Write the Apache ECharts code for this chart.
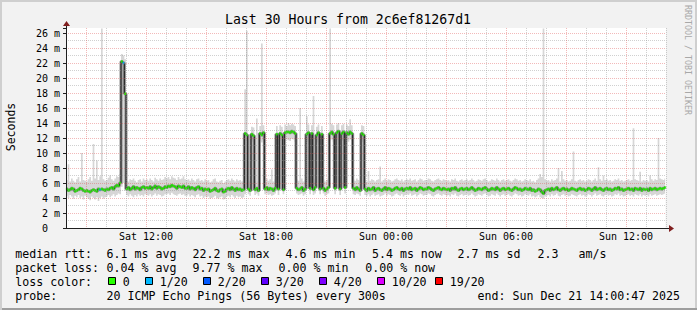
<!DOCTYPE html>
<html><head><meta charset="utf-8">
<script src="https://cdn.jsdelivr.net/npm/echarts@6/dist/echarts.min.js"></script>
<style>html,body{margin:0;padding:0;background:#f2f2f2}#c{width:697px;height:310px}</style>
</head><body><div id="c"></div>
<script>
// ---- data (5-minute steps starting Sat 08:00) ----
const startHour = 8;
const stepMinutes = 5;
const median = [
5.2,5.0,5.1,5.3,5.2,4.9,5.0,5.1,5.3,5.2,5.0,4.9,
5.0,4.9,4.8,5.0,5.1,5.0,4.9,5.2,5.1,5.2,5.1,5.0,
5.2,5.1,5.3,5.4,5.2,5.5,5.7,5.6,6.0,22.2,22.0,17.9,
5.2,5.4,5.1,5.3,5.5,5.2,5.4,5.3,5.1,5.4,5.5,5.3,
5.4,5.3,5.5,5.2,5.4,5.6,5.3,5.5,5.4,5.2,5.3,5.5,
5.4,5.6,5.5,5.7,5.6,5.5,5.3,5.6,5.5,5.4,5.6,5.3,
5.3,5.5,5.2,5.4,5.3,5.1,5.4,5.5,5.2,5.3,5.0,5.2,
5.1,5.2,4.9,5.0,5.1,5.3,5.0,4.9,5.1,5.2,4.8,4.9,
5.2,5.3,5.1,5.4,5.2,5.0,5.3,5.1,5.2,5.0,5.1,12.6,
12.4,5.2,5.0,12.5,12.3,5.1,5.3,5.0,12.6,12.4,12.7,5.2,
5.4,5.1,5.3,5.2,5.0,5.3,12.5,5.2,12.6,12.4,5.1,12.7,
12.8,12.8,12.7,12.9,12.8,12.6,5.3,5.1,5.2,5.4,5.0,5.2,
12.5,12.7,5.3,12.6,5.1,5.4,12.4,12.7,5.2,12.5,5.3,5.0,
5.2,5.4,12.6,12.8,12.5,5.3,12.7,12.9,5.2,12.6,12.8,5.4,
12.7,12.5,12.8,12.6,5.3,5.1,5.4,5.2,5.0,12.6,12.4,5.2,
5.0,5.3,5.1,5.2,5.4,5.0,5.2,5.3,5.1,5.0,5.2,5.4,
5.1,5.3,5.2,5.0,5.1,5.3,5.4,5.2,5.1,5.3,5.0,5.2,
5.3,5.2,5.4,5.1,5.2,5.3,5.0,5.2,5.4,5.3,5.1,5.2,
5.2,5.4,5.3,5.1,5.0,5.2,5.3,5.4,5.2,5.1,5.3,5.2,
5.1,5.2,5.0,5.3,5.2,5.4,5.1,5.0,5.2,5.3,5.1,5.2,
5.3,5.1,5.2,5.4,5.2,5.0,5.1,5.3,5.2,5.1,5.3,5.4,
5.2,5.0,5.1,5.3,5.2,5.1,5.4,5.2,5.0,5.2,5.3,5.1,
5.2,5.3,5.1,5.0,5.2,5.4,5.3,5.1,5.2,5.0,5.1,5.3,
5.2,5.1,5.3,5.0,5.1,4.9,5.0,5.2,5.1,4.8,4.6,5.0,
5.1,5.2,5.0,5.3,5.1,5.2,5.4,5.1,5.0,5.2,5.3,5.1,
5.2,5.0,5.1,5.3,5.2,5.1,5.0,5.2,5.3,5.1,5.2,5.0,
5.1,5.3,5.2,5.0,5.2,5.4,5.1,5.2,5.3,5.1,5.0,5.2,
5.3,5.1,5.2,5.0,5.1,5.3,5.2,5.4,5.1,5.2,5.0,5.1,
5.2,5.3,5.1,5.2,5.0,5.3,5.2,5.1,5.3,5.0,5.2,5.1,
5.2,5.0,5.3,5.1,5.2,5.3,5.1,5.2,5.3,5.2,5.3,5.4
];
const pingMax = [
6.4,8.5,6.2,6.6,6.3,6.1,6.5,6.8,6.2,10.0,6.4,6.3,
6.2,6.5,6.8,6.3,11.2,6.6,9.0,6.4,6.9,26.6,6.5,6.3,
6.4,6.7,7.0,6.5,6.3,6.6,6.9,6.8,7.2,23.2,23.0,22.5,
6.3,6.2,6.5,6.4,6.6,6.3,6.1,6.4,6.5,6.2,6.6,6.4,
6.5,6.3,6.6,6.4,6.2,6.7,6.5,6.3,6.6,6.4,6.5,6.8,
6.6,6.8,6.5,6.9,6.7,6.6,6.4,6.8,6.5,6.6,6.9,6.5,
6.4,6.5,6.3,6.6,6.4,6.2,6.5,6.6,6.3,6.4,6.2,6.5,
6.3,6.4,6.1,6.2,6.5,6.6,6.2,6.1,6.3,6.4,6.0,6.2,
6.4,6.5,6.3,6.6,6.4,6.2,6.5,6.3,6.4,6.2,6.3,18.5,
26.3,6.4,6.2,13.5,13.4,6.3,14.6,6.2,13.6,24.6,13.7,6.4,
6.6,6.3,6.5,7.8,6.2,6.5,13.6,6.4,13.7,13.5,6.3,13.8,
13.6,14.0,13.7,13.9,13.8,13.6,6.5,6.3,16.0,6.6,6.2,6.4,
14.9,13.8,6.5,13.7,17.6,6.6,13.5,13.8,6.4,13.6,6.5,6.2,
6.4,6.6,26.6,13.9,13.7,6.5,13.8,14.0,6.4,13.7,13.9,13.0,
13.8,13.6,14.5,13.7,6.5,6.3,6.6,6.4,6.2,13.7,13.6,6.4,
6.2,7.6,6.3,6.5,6.4,6.2,6.4,6.5,8.2,6.2,6.4,6.6,
6.3,6.5,6.4,6.2,6.3,6.5,6.6,6.4,6.3,6.5,6.2,6.4,
6.5,6.4,6.6,6.3,6.4,6.5,6.2,6.4,6.6,6.5,6.3,6.4,
6.4,6.6,6.5,6.3,6.2,6.4,6.5,6.6,6.4,6.3,6.5,6.4,
6.3,6.4,6.2,6.5,6.4,6.6,6.3,6.2,6.4,6.5,6.3,6.4,
6.5,6.3,6.4,6.6,6.4,6.2,6.3,6.5,6.4,6.3,6.5,6.6,
6.4,6.2,6.3,6.5,6.4,6.3,6.6,6.4,6.2,6.4,6.5,6.3,
6.4,6.5,6.3,6.2,6.4,6.6,6.5,6.3,6.4,6.2,6.3,6.5,
6.4,6.3,6.5,6.2,6.3,6.1,6.4,6.6,7.2,6.8,26.6,6.5,
6.3,6.4,6.2,6.5,6.3,6.4,6.6,8.0,6.2,7.6,6.5,6.3,
6.4,6.2,6.3,6.5,10.2,6.3,6.2,6.4,6.5,6.3,6.4,6.2,
6.3,6.5,6.4,6.2,6.4,6.6,6.3,8.1,6.5,6.3,7.0,6.4,
6.5,6.3,6.4,6.2,6.3,6.5,6.4,6.6,6.3,6.4,6.2,6.3,
6.4,6.5,6.3,6.4,13.3,6.5,6.4,6.3,7.5,6.2,6.4,6.3,
6.4,6.2,7.0,6.5,6.3,6.5,6.4,12.0,6.6,6.5,6.4,6.6
];
const pingMin = [
4.3,4.0,4.4,4.2,3.9,4.3,4.1,4.4,4.0,4.2,3.8,4.3,
4.1,3.9,3.7,4.2,4.0,3.8,4.1,3.6,4.0,4.2,3.9,4.1,
4.2,4.4,4.1,4.3,4.5,4.2,4.4,4.6,4.5,5.5,6.0,5.0,
4.4,4.2,4.5,4.3,4.1,4.4,4.2,4.5,4.3,4.4,4.2,4.5,
4.4,4.3,4.5,4.2,4.4,4.6,4.3,4.5,4.4,4.2,4.3,4.5,
4.5,4.6,4.4,4.7,4.5,4.4,4.3,4.5,4.6,4.4,4.5,4.3,
4.3,4.5,4.2,4.4,4.3,4.1,4.4,4.5,4.2,4.3,4.0,4.2,
4.1,4.2,3.9,4.0,4.1,4.3,4.0,3.9,4.1,4.2,3.8,3.9,
4.2,4.3,4.1,4.4,4.2,4.0,4.3,4.1,4.2,4.0,4.1,4.5,
11.6,4.5,4.3,11.5,11.7,4.4,4.6,4.3,11.6,11.4,11.7,4.5,
4.6,4.4,4.5,4.3,4.4,4.6,11.5,4.4,11.6,11.7,4.5,11.6,
11.8,11.7,11.6,11.9,11.8,11.5,4.6,4.4,4.5,4.6,4.3,4.5,
11.5,11.7,4.5,11.6,4.4,4.6,11.4,11.7,4.5,11.5,4.6,4.3,
4.5,4.6,11.6,11.8,11.5,4.5,11.7,11.8,4.4,11.6,11.7,4.6,
11.7,11.5,11.8,11.6,4.5,4.4,4.6,4.5,4.3,11.5,11.4,4.4,
4.3,4.5,4.2,4.4,4.6,4.3,4.4,4.5,4.2,4.3,4.4,4.6,
4.3,4.5,4.4,4.2,4.3,4.5,4.6,4.4,4.3,4.5,4.2,4.4,
4.5,4.4,4.6,4.3,4.4,4.5,4.2,4.4,4.6,4.5,4.3,4.4,
4.4,4.6,4.5,4.3,4.2,4.4,4.5,4.6,4.4,4.3,4.5,4.4,
4.3,4.4,4.2,4.5,4.4,4.6,4.3,4.2,4.4,4.5,4.3,4.4,
4.5,4.3,4.4,4.6,4.4,4.2,4.3,4.5,4.4,4.3,4.5,4.6,
4.4,4.2,4.3,4.5,4.4,4.3,4.6,4.4,4.2,4.4,4.5,4.3,
4.4,4.5,4.3,4.2,4.4,4.6,4.5,4.3,4.4,4.2,4.3,4.5,
4.4,4.3,4.5,4.2,4.3,4.1,4.2,4.4,4.1,4.0,3.9,4.2,
4.3,4.4,4.2,4.5,4.3,4.4,4.6,4.3,4.2,4.4,4.5,4.3,
4.4,4.2,4.3,4.5,4.4,4.3,4.2,4.4,4.5,4.3,4.4,4.2,
4.3,4.5,4.4,4.2,4.4,4.6,4.3,4.4,4.5,4.3,4.2,4.4,
4.5,4.3,4.4,4.2,4.3,4.5,4.4,4.6,4.3,4.4,4.2,4.3,
4.4,4.5,4.3,4.4,4.2,4.5,4.4,4.3,4.5,4.2,4.4,4.3,
4.4,4.2,4.5,4.3,4.4,4.5,4.3,4.4,4.5,4.4,4.5,4.6
];
const loss1of20Index = [20, 34];
const xTickHours = [12, 18, 24, 30, 36];
const xTickLabels = ['Sat 12:00', 'Sat 18:00', 'Sun 00:00', 'Sun 06:00', 'Sun 12:00'];
const xRange = [8, 38];
const yMax = 26.6667;
const titleText = 'Last 30 Hours from 2c6ef81267d1';
const lossColors = ['#26ff00', '#00b8ff', '#0059ff', '#5e00ff', '#7e00ff', '#dd00ff', '#ff0000'];
const lossLabels = ['0', '1/20', '2/20', '3/20', '4/20', '10/20', '19/20'];
const statRow1 = ['median rtt:', '6.1 ms avg', '22.2 ms max', '4.6 ms min', '5.4 ms now', '2.7 ms sd', '2.3', 'am/s'];
const statRow2 = ['packet loss:', '0.04 % avg', '9.77 % max', '0.00 % min', '0.00 % now'];
const probeRow = ['probe:', '20 ICMP Echo Pings (56 Bytes) every 300s', 'end: Sun Dec 21 14:00:47 2025'];

// ---- layout ----
const G = {left: 66, top: 28, width: 600, height: 200};
const MONO = '"DejaVu Sans Mono", monospace';
const minorC = 'rgba(143,143,143,0.42)';
const majorC = 'rgba(222,79,79,0.4)';

const xs = median.map((_, i) => startHour + (i + 0.5) * stepMinutes / 60);
const hiPts = xs.map((x, i) => [x, pingMax[i]]);
const loPts = xs.map((x, i) => [x, pingMin[i]]);
const medPts = xs.map((x, i) => [x, median[i]]);
const greenPts = xs.map((x, i) => ({value: [x, median[i]], itemStyle: {color: loss1of20Index.includes(i) ? lossColors[1] : lossColors[0]}}));

const chart = echarts.init(document.getElementById('c'), null, {renderer: 'svg', width: 697, height: 310});

function txt(x, y, s, size, extra) {
  return Object.assign({type: 'text', x: x, y: y, z: 100,
    style: {text: s, font: size + 'px ' + MONO, fill: '#000', align: 'left', verticalAlign: 'middle'}}, extra || {});
}
const graphics = [];
// 3D border
graphics.push({type: 'rect', z: -10, shape: {x: 0, y: 0, width: 697, height: 2}, style: {fill: '#cfcfcf'}});
graphics.push({type: 'rect', z: -10, shape: {x: 0, y: 0, width: 2, height: 310}, style: {fill: '#cfcfcf'}});
graphics.push({type: 'rect', z: -10, shape: {x: 695, y: 2, width: 2, height: 308}, style: {fill: '#cfcfcf'}});
graphics.push({type: 'rect', z: -10, shape: {x: 2, y: 308, width: 695, height: 2}, style: {fill: '#9e9e9e'}});
// title
graphics.push({type: 'text', x: 348, y: 19, z: 100, style: {text: titleText, font: '13.2px ' + MONO, fill: '#000', align: 'center', verticalAlign: 'middle'}});
// y axis name
graphics.push({type: 'text', x: 11, y: 127, rotation: Math.PI / 2, z: 100, style: {text: 'Seconds', font: '11.5px ' + MONO, fill: '#000', align: 'center', verticalAlign: 'middle'}});
// watermark
graphics.push({type: 'text', x: 688, y: 5, rotation: -Math.PI / 2, z: 100, style: {text: 'RRDTOOL / TOBI OETIKER', font: '8.3px ' + MONO, fill: '#a8a8a8', align: 'left', verticalAlign: 'middle'}});
// arrows
const axisY = G.top + G.height, axisX = G.left, rightX = G.left + G.width;
graphics.push({type: 'line', z: 50, shape: {x1: rightX, y1: axisY + 0.5, x2: rightX + 4, y2: axisY + 0.5}, style: {stroke: '#1f1f1f', lineWidth: 1}});
graphics.push({type: 'polygon', z: 50, shape: {points: [[rightX + 3, axisY - 3], [rightX + 8, axisY + 0.5], [rightX + 3, axisY + 4]]}, style: {fill: '#801f1f'}});
graphics.push({type: 'line', z: 50, shape: {x1: axisX + 0.5, y1: G.top, x2: axisX + 0.5, y2: G.top - 3}, style: {stroke: '#1f1f1f', lineWidth: 1}});
graphics.push({type: 'polygon', z: 50, shape: {points: [[axisX - 3, G.top - 2], [axisX + 0.5, G.top - 7], [axisX + 4, G.top - 2]]}, style: {fill: '#801f1f'}});
// legend rows
const F = 11.6;
const r1x = [16, 107.3, 193.3, 286.3, 372.7, 458.3, 538.3, 579.3];
statRow1.forEach((s, k) => graphics.push(txt(r1x[k] - 0.7, 254.3, s, F)));
const r2x = [16, 107.3, 193.3, 279.3, 366];
statRow2.forEach((s, k) => graphics.push(txt(r2x[k] - 0.7, 268, s, F)));
graphics.push(txt(15.3, 282, 'loss color:', F));
const boxX = [108.5, 145.5, 203.5, 261.5, 319.5, 377.5, 435.5];
lossColors.forEach((c, k) => {
  graphics.push({type: 'rect', z: 100, shape: {x: boxX[k], y: 277.5, width: 7, height: 7}, style: {fill: c, stroke: '#000', lineWidth: 1}});
  graphics.push(txt(boxX[k] + 14.2, 282, lossLabels[k], F));
});
const r4x = [16, 107.3, 478.3];
probeRow.forEach((s, k) => graphics.push(txt(r4x[k] - 0.7, 295.8, s, F)));

const option = {
  animation: false,
  backgroundColor: '#f2f2f2',
  grid: Object.assign({show: true, backgroundColor: '#ffffff', borderWidth: 0}, G),
  xAxis: {
    type: 'value', min: xRange[0], max: xRange[1], interval: 1, z: 5,
    axisLine: {show: true, onZero: false, lineStyle: {color: '#1f1f1f', width: 1}},
    axisTick: {show: false},
    axisLabel: {
      margin: 3, fontFamily: MONO, fontSize: 10, color: '#000', hideOverlap: false,
      formatter: v => { const k = xTickHours.indexOf(Math.round(v * 1000) / 1000); return k >= 0 ? xTickLabels[k] : ''; }
    },
    splitLine: {show: true, showMinLine: true, showMaxLine: true, lineStyle: {color: [minorC, majorC, minorC], type: [1, 1], width: 1}}
  },
  yAxis: [
    {
      type: 'value', min: 0, max: yMax, interval: 1, position: 'left', z: 5,
      axisLine: {show: true, lineStyle: {color: '#1f1f1f', width: 1}},
      axisTick: {show: false}, axisLabel: {show: false},
      splitLine: {show: true, showMinLine: true, showMaxLine: false, lineStyle: {color: [majorC, minorC], type: [1, 1], width: 1}}
    },
    {
      type: 'value', min: 0, max: yMax, interval: 2, position: 'left', offset: 0, z: 5,
      axisLine: {show: false},
      axisTick: {show: true, length: 3, lineStyle: {color: '#1f1f1f'}},
      axisLabel: {
        margin: 6, fontFamily: MONO, fontSize: 10, color: '#000',
        formatter: v => { if (Math.abs(v - Math.round(v)) > 1e-6 || Math.round(v) % 2) return ''; return v === 0 ? '0\u00a0\u00a0' : Math.round(v) + ' m'; }
      },
      splitLine: {show: false}
    }
  ],
  series: [
    {type: 'line', data: hiPts, step: 'middle', symbol: 'none', silent: true, z: 1,
      lineStyle: {width: 0, opacity: 0}, areaStyle: {color: '#d6d6d6', opacity: 1, origin: 'start'}},
    {type: 'line', data: loPts, step: 'middle', symbol: 'none', silent: true, z: 1,
      lineStyle: {width: 0, opacity: 0}, areaStyle: {color: '#ffffff', opacity: 1, origin: 'start'}},
    {type: 'line', data: medPts, step: 'middle', symbol: 'none', silent: true, z: 2,
      lineStyle: {color: '#8c8c8c', width: 3}},
    {type: 'line', data: medPts, step: 'middle', symbol: 'none', silent: true, z: 3,
      lineStyle: {color: '#1a1a1a', width: 1}},
    {type: 'scatter', data: greenPts, symbol: 'rect', symbolSize: [2, 2.4], silent: true, z: 4}
  ],
  graphic: graphics
};
chart.setOption(option);
</script>
</body></html>
